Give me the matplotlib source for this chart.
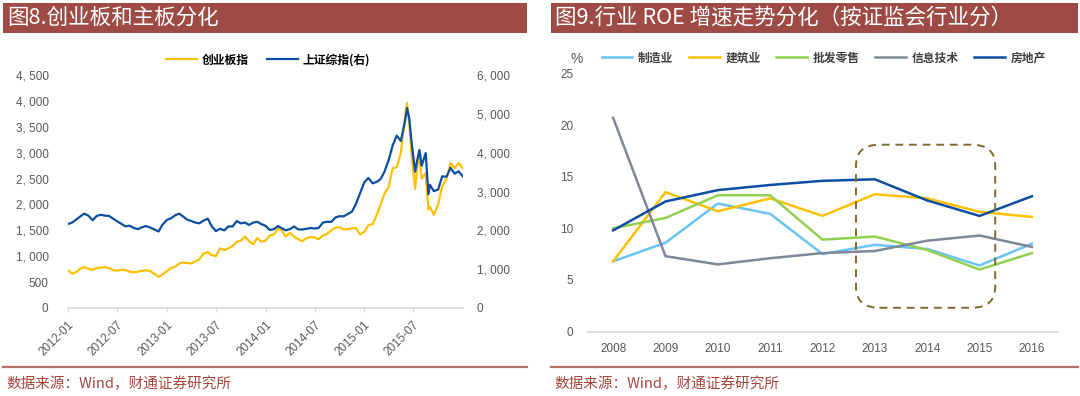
import matplotlib
matplotlib.use("Agg")
import matplotlib.pyplot as plt
from matplotlib.patches import Rectangle, FancyBboxPatch
from matplotlib.lines import Line2D
import datetime as dt

plt.rcParams['font.family'] = ['Noto Sans CJK SC', 'DejaVu Sans']

# ---------------- data: left chart ----------------
dates = [
    "2012-01-04", "2012-01-16", "2012-02-01", "2012-02-16", "2012-03-01", "2012-03-16",
    "2012-04-01", "2012-04-16", "2012-05-01", "2012-05-16", "2012-06-01", "2012-06-16",
    "2012-07-01", "2012-07-16", "2012-08-01", "2012-08-16", "2012-09-01", "2012-09-16",
    "2012-10-01", "2012-10-16", "2012-11-01", "2012-11-16", "2012-12-01", "2012-12-16",
    "2013-01-01", "2013-01-16", "2013-02-01", "2013-02-16", "2013-03-01", "2013-03-16",
    "2013-04-01", "2013-04-16", "2013-05-01", "2013-05-16", "2013-06-01", "2013-06-16",
    "2013-07-01", "2013-07-16", "2013-08-01", "2013-08-16", "2013-09-01", "2013-09-16",
    "2013-10-01", "2013-10-16", "2013-11-01", "2013-11-16", "2013-12-01", "2013-12-16",
    "2014-01-01", "2014-01-16", "2014-02-01", "2014-02-16", "2014-03-01", "2014-03-16",
    "2014-04-01", "2014-04-16", "2014-05-01", "2014-05-16", "2014-06-01", "2014-06-16",
    "2014-07-01", "2014-07-16", "2014-08-01", "2014-08-16", "2014-09-01", "2014-09-16",
    "2014-10-01", "2014-10-16", "2014-11-01", "2014-11-16", "2014-12-01", "2014-12-16",
    "2015-01-01", "2015-01-16", "2015-02-01", "2015-02-16", "2015-03-01", "2015-03-16",
    "2015-04-01", "2015-04-16", "2015-05-01", "2015-05-16", "2015-06-01", "2015-06-08",
    "2015-06-16", "2015-06-26", "2015-07-08", "2015-07-16", "2015-07-24", "2015-08-01",
    "2015-08-16", "2015-08-26", "2015-09-01", "2015-09-15", "2015-10-01", "2015-10-16",
    "2015-11-01", "2015-11-16", "2015-12-01", "2015-12-16", "2015-12-31",
]
chinext = [
    720, 660, 700, 760, 790, 760, 735, 770, 780, 790, 770, 730,
    720, 740, 730, 700, 690, 700, 720, 730, 710, 660, 600, 650,
    714, 770, 800, 860, 880, 870, 860, 900, 940, 1050, 1080, 1020,
    1000, 1150, 1120, 1150, 1200, 1280, 1300, 1380, 1290, 1230, 1350, 1280,
    1304, 1400, 1420, 1540, 1500, 1380, 1450, 1380, 1330, 1290, 1350, 1370,
    1360, 1330, 1400, 1430, 1500, 1550, 1560, 1520, 1520, 1540, 1540, 1420,
    1472, 1600, 1620, 1800, 1980, 2200, 2340, 2700, 2720, 3000, 3700, 3960,
    3600, 2900, 2300, 2750, 2900, 2500, 2600, 1900, 1950, 1800, 2000, 2350,
    2500, 2800, 2700, 2800, 2700,
]
shanghai = [
    2170, 2200, 2280, 2360, 2430, 2380, 2260, 2370, 2400, 2380, 2370, 2300,
    2230, 2170, 2100, 2120, 2060, 2030, 2080, 2110, 2070, 2020, 1970, 2150,
    2270, 2310, 2390, 2430, 2360, 2280, 2240, 2200, 2180, 2250, 2300, 2100,
    1980, 2040, 2000, 2100, 2100, 2240, 2180, 2200, 2140, 2200, 2220, 2160,
    2116, 2010, 2033, 2110, 2056, 2000, 2033, 2100, 2026, 2020, 2039, 2060,
    2048, 2060, 2200, 2220, 2217, 2330, 2364, 2360, 2420, 2480, 2680, 2950,
    3235, 3350, 3210, 3250, 3310, 3500, 3810, 4190, 4440, 4300, 4830, 5150,
    4890, 4190, 3510, 3820, 4070, 3660, 3990, 2930, 3170, 3010, 3050, 3390,
    3380, 3610, 3460, 3520, 3390,
]
left_ticks = ["0", "500", "1, 000", "1, 500", "2, 000", "2, 500", "3, 000", "3, 500", "4, 000", "4, 500"]
right_ticks = ["0", "1, 000", "2, 000", "3, 000", "4, 000", "5, 000", "6, 000"]
x_tick_labels = ["2012-01", "2012-07", "2013-01", "2013-07", "2014-01", "2014-07", "2015-01", "2015-07"]

# ---------------- data: right chart ----------------
years = ["2008", "2009", "2010", "2011", "2012", "2013", "2014", "2015", "2016"]
manufacturing = [6.8, 8.6, 12.4, 11.4, 7.5, 8.4, 8.0, 6.4, 8.5]
construction = [6.8, 13.5, 11.65, 12.9, 11.2, 13.3, 12.9, 11.6, 11.1]
retail = [10.0, 11.0, 13.2, 13.2, 8.9, 9.2, 7.9, 6.0, 7.6]
infotech = [20.7, 7.3, 6.5, 7.1, 7.6, 7.8, 8.8, 9.3, 8.2]
realestate = [9.8, 12.6, 13.7, 14.2, 14.6, 14.75, 12.7, 11.2, 13.1]

W, H = 1080, 396
fig = plt.figure(figsize=(W / 100, H / 100), dpi=100)

def fx(px):
    return px / W

def fy(py):
    return 1 - py / H

BAR = '#9E4B45'
SRC = '#A5453B'
LINE_RED = '#B8706A'
GRAY_TXT = '#595959'
AXIS_GRAY = '#D9D9D9'

# title bars
for x0, x1, title in [(3, 527, "图8.创业板和主板分化"), (551, 1078, "图9.行业 ROE 增速走势分化（按证监会行业分）")]:
    fig.patches.append(Rectangle((fx(x0), fy(33)), fx(x1 - x0), 30 / H, transform=fig.transFigure,
                                 facecolor=BAR, edgecolor='none', zorder=0))
    fig.text(fx(x0 + 4), fy(18), title, color='white', fontsize=15.5, va='center', ha='left')
    fig.lines.append(Line2D([fx(x0), fx(x1)], [fy(367), fy(367)], transform=fig.transFigure,
                            color=LINE_RED, lw=1.6))
    fig.text(fx(x0 + 3), fy(384), "数据来源：Wind，财通证券研究所", color=SRC, fontsize=10.5,
             va='center', ha='left')

# ---------------- left chart ----------------
axL = fig.add_axes([fx(68), fy(308), fx(463 - 68), (308 - 75) / H])
axR = axL.twinx()
d = [dt.datetime.strptime(s, "%Y-%m-%d") for s in dates]
l1, = axL.plot(d, chinext, color='#FFC000', lw=1.6, label='创业板指')
l2, = axR.plot(d, shanghai, color='#0B4EA2', lw=1.6, label='上证综指(右)')
axL.patch.set_visible(False)
axR.set_zorder(axL.get_zorder() + 1)
axR.patch.set_visible(False)

axL.set_xlim(dt.datetime(2012, 1, 1), dt.datetime(2016, 1, 1))
axL.set_ylim(0, 4500)
axR.set_ylim(0, 6000)
axL.set_yticks(range(0, 4501, 500))
axL.set_yticklabels(left_ticks)
axR.set_yticks(range(0, 6001, 1000))
axR.set_yticklabels(right_ticks)
xt = [dt.datetime(2012 + i // 2, 1 + 6 * (i % 2), 1) for i in range(len(x_tick_labels))]
axL.set_xticks(xt)
axL.set_xticklabels(x_tick_labels, rotation=45, ha='right', va='top', rotation_mode='anchor')
for ax in (axL, axR):
    for s in ('top', 'left', 'right'):
        ax.spines[s].set_visible(False)
    ax.spines['bottom'].set_color(AXIS_GRAY)
    ax.spines['bottom'].set_linewidth(1.2)
    ax.tick_params(axis='y', length=0, labelsize=8.5, labelcolor=GRAY_TXT)
axL.tick_params(axis='y', pad=14)
axL.tick_params(axis='x', length=3, color=AXIS_GRAY, labelsize=8.5, labelcolor=GRAY_TXT, pad=5)
axR.tick_params(axis='y', pad=10)
axR.spines['bottom'].set_visible(False)
for lab in axL.get_yticklabels() + axR.get_yticklabels() + axL.get_xticklabels():
    lab.set_family(['Liberation Sans', 'DejaVu Sans'])
leg = axL.legend(handles=[l1, l2], loc='center', bbox_to_anchor=(fx(268), fy(60)),
                 bbox_transform=fig.transFigure, ncol=2, frameon=False, fontsize=8.5,
                 handlelength=2.6, columnspacing=1.6, handletextpad=0.4)
for t in leg.get_texts():
    t.set_fontweight('bold')

# ---------------- right chart ----------------
ax2 = fig.add_axes([fx(587), fy(331.5), fx(1058 - 587), (331.5 - 73.5) / H])
xs = list(range(len(years)))
series = [
    (manufacturing, '#69C3F7', '制造业'),
    (construction, '#FFC000', '建筑业'),
    (retail, '#92D050', '批发零售'),
    (infotech, '#7F8896', '信息技术'),
    (realestate, '#0B4EA2', '房地产'),
]
handles = []
for vals, c, name in series:
    h, = ax2.plot(xs, vals, color=c, lw=1.8, label=name)
    handles.append(h)
ax2.set_xlim(-0.5, len(years) - 0.5)
ax2.set_ylim(0, 25)
ax2.set_yticks([0, 5, 10, 15, 20, 25])
ax2.set_xticks(xs)
ax2.set_xticklabels(years)
for s in ('top', 'left', 'right'):
    ax2.spines[s].set_visible(False)
ax2.spines['bottom'].set_color(AXIS_GRAY)
ax2.spines['bottom'].set_linewidth(1.2)
ax2.tick_params(axis='y', length=0, labelsize=8.5, labelcolor=GRAY_TXT, pad=10)
ax2.tick_params(axis='x', length=0, labelsize=8.5, labelcolor=GRAY_TXT, pad=8)
for lab in ax2.get_yticklabels() + ax2.get_xticklabels():
    lab.set_family(['Liberation Sans', 'DejaVu Sans'])

# dashed rounded highlight box (2013-2015)
box_l, box_r = 4.64, 7.3
box_b, box_t = 2.3, 18.1
box = FancyBboxPatch((box_l, box_b), box_r - box_l, box_t - box_b,
                     boxstyle="round,pad=0,rounding_size=0.45",
                     mutation_aspect=4.5, facecolor='none', edgecolor='#7F6A2E', lw=1.4,
                     linestyle=(0, (4, 3)), zorder=5)
ax2.add_patch(box)

fig.text(fx(577), fy(59), "%", color=GRAY_TXT, fontsize=10, ha='center', va='center',
         family=['Liberation Sans', 'DejaVu Sans'])
leg2 = ax2.legend(handles=handles, loc='center left', bbox_to_anchor=(fx(591), fy(58)),
                  bbox_transform=fig.transFigure, ncol=5, frameon=False, fontsize=8.5,
                  handlelength=2.6, columnspacing=1.3, handletextpad=0.5)
for t in leg2.get_texts():
    t.set_fontweight('bold')
    t.set_color('#404040')

fig.savefig("out.png", dpi=100)
